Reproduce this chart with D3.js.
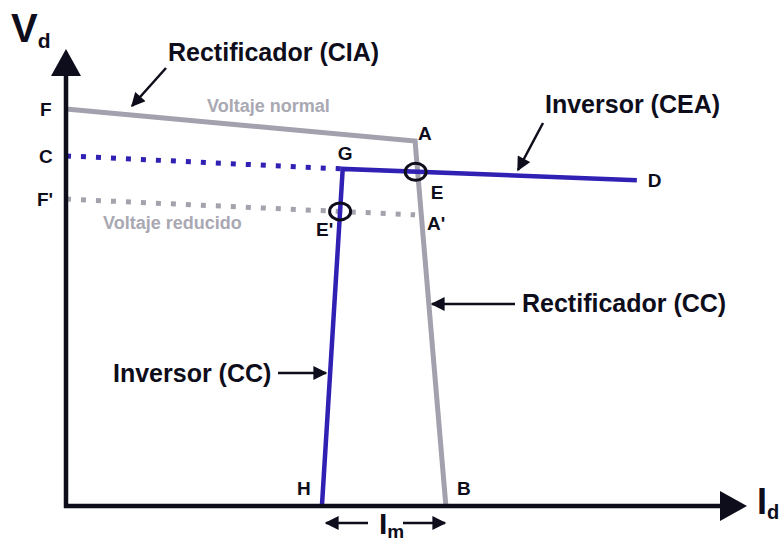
<!DOCTYPE html>
<html>
<head>
<meta charset="utf-8">
<script src="https://cdn.jsdelivr.net/npm/d3@7"></script>
<style>
  body { margin: 0; background: #fff; }
  svg text { font-family: "Liberation Sans", Arial, Helvetica, sans-serif; font-weight: bold; }
</style>
</head>
<body>
<svg id="chart" width="781" height="542"></svg>
<script>
// characteristic points, in (Id, Vd) units
const rectNormal = [[0, 88.2], [52.1, 81.1], [56.7, 0]]        // F -> A -> B
const rectReduced = [[0, 68.2], [52.1, 64.7]]                   // F' -> A'
const invCEAextended = [[0, 77.8], [41.3, 74.9]]               // C -> G
const inverter = [[38.2, 0], [41.3, 74.9], [85.2, 72.4]]        // H -> G -> D
const pointNames = ["F", "A", "B", "F'", "A'", "C", "G", "D", "H"]

const width = 781
const height = 542
const svg = d3.select("#chart")

const x = d3.scaleLinear().domain([0, 100]).range([66, 736])
const y = d3.scaleLinear().domain([0, 100]).range([506, 56])

const gray = "#a2a1ad"
const blue = "#3120b4"
const ink = "#0e0d1b"

// arrow heads
const defs = svg.append("defs")
defs.append("marker")
    .attr("id", "head")
    .attr("viewBox", "0 0 10 10")
    .attr("refX", 9).attr("refY", 5)
    .attr("markerWidth", 15).attr("markerHeight", 14)
    .attr("markerUnits", "userSpaceOnUse")
    .attr("orient", "auto")
  .append("path")
    .attr("d", "M0,0 L10,5 L0,10 Z")
    .attr("fill", ink)

const line = d3.line().x(d => x(d[0])).y(d => y(d[1]))

// dotted extensions
svg.append("path")
    .attr("d", line(invCEAextended))
    .attr("fill", "none").attr("stroke", blue)
    .attr("stroke-width", 5).attr("stroke-dasharray", "5 10")
svg.append("path")
    .attr("d", line(rectReduced))
    .attr("fill", "none").attr("stroke", "#a3a2ad")
    .attr("stroke-width", 5).attr("stroke-dasharray", "5 10")

// rectifier characteristic
svg.append("path")
    .attr("d", line(rectNormal))
    .attr("fill", "none").attr("stroke", gray)
    .attr("stroke-width", 5).attr("stroke-linejoin", "miter")

// inverter characteristic
svg.append("path")
    .attr("d", line(inverter))
    .attr("fill", "none").attr("stroke", blue)
    .attr("stroke-width", 4.5).attr("stroke-linejoin", "miter")

// axes
svg.append("line")
    .attr("x1", x(0)).attr("y1", y(0) + 2)
    .attr("x2", x(0)).attr("y2", 76)
    .attr("stroke", ink).attr("stroke-width", 4.5)
svg.append("path")
    .attr("d", `M${x(0)},49 L${x(0) + 15},76 L${x(0) - 15},76 Z`)
    .attr("fill", ink)
svg.append("line")
    .attr("x1", x(0) - 2).attr("y1", y(0))
    .attr("x2", 722).attr("y2", y(0))
    .attr("stroke", ink).attr("stroke-width", 4.5)
svg.append("path")
    .attr("d", `M747,${y(0)} L720,${y(0) - 15} L720,${y(0) + 15} Z`)
    .attr("fill", ink)

// operating points: intersections
function intersect(p1, p2, p3, p4) {
  const [x1, y1] = [x(p1[0]), y(p1[1])], [x2, y2] = [x(p2[0]), y(p2[1])]
  const [x3, y3] = [x(p3[0]), y(p3[1])], [x4, y4] = [x(p4[0]), y(p4[1])]
  const den = (x1 - x2) * (y3 - y4) - (y1 - y2) * (x3 - x4)
  const t = ((x1 - x3) * (y3 - y4) - (y1 - y3) * (x3 - x4)) / den
  return [x1 + t * (x2 - x1), y1 + t * (y2 - y1)]
}
const E = intersect(inverter[1], inverter[2], rectNormal[1], rectNormal[2])
const E2 = intersect(inverter[0], inverter[1], rectReduced[0], [rectReduced[1][0] + 4.6, rectReduced[1][1] - 0.3])
svg.selectAll("ellipse.op")
  .data([[E[0] - 2, E[1]], E2])
  .enter().append("ellipse")
    .attr("class", "op")
    .attr("cx", d => d[0]).attr("cy", d => d[1])
    .attr("rx", 10.5).attr("ry", 8.5)
    .attr("fill", "none").attr("stroke", ink).attr("stroke-width", 3)

// point letters
const letterPos = {
  "F":  [x(0) - 26, y(rectNormal[0][1]) + 7],
  "C":  [x(0) - 27, y(invCEAextended[0][1]) + 7],
  "F'": [x(0) - 29, y(rectReduced[0][1]) + 7],
  "A":  [x(rectNormal[1][0]) + 3, y(rectNormal[1][1]) - 1],
  "A'": [x(rectReduced[1][0]) + 12, y(rectReduced[1][1]) + 15],
  "G":  [x(inverter[1][0]) - 5, y(inverter[1][1]) - 9],
  "D":  [x(inverter[2][0]) + 11, y(inverter[2][1]) + 7],
  "H":  [x(inverter[0][0]) - 25, y(0) - 11],
  "B":  [x(rectNormal[2][0]) + 11, y(0) - 11]
}
svg.selectAll("text.pt")
  .data(pointNames)
  .enter().append("text")
    .attr("class", "pt")
    .attr("x", d => letterPos[d][0]).attr("y", d => letterPos[d][1])
    .attr("font-size", 19).attr("fill", ink)
    .text(d => d)
svg.append("text").attr("x", E[0] + 13).attr("y", E[1] + 27)
    .attr("font-size", 19).attr("fill", ink).text("E")
svg.append("text").attr("x", E2[0] - 24).attr("y", E2[1] + 25)
    .attr("font-size", 19).attr("fill", ink).text("E'")

// curve captions
svg.append("text").attr("x", 207).attr("y", 112)
    .attr("font-size", 18).attr("fill", "#a9a8b3").text("Voltaje normal")
svg.append("text").attr("x", 103).attr("y", 229)
    .attr("font-size", 18).attr("fill", "#a9a8b3").text("Voltaje reducido")

// annotations with arrows
const notes = [
  {text: "Rectificador (CIA)", tx: 168, ty: 61, from: [166, 68], to: [132, 106]},
  {text: "Inversor (CEA)", tx: 545, ty: 113, from: [543, 123], to: [518, 170]},
  {text: "Rectificador (CC)", tx: 522, ty: 312, from: [515, 304], to: [432, 304]},
  {text: "Inversor (CC)", tx: 113, ty: 382, from: [278, 373], to: [326, 373]}
]
notes.forEach(n => {
  svg.append("text").attr("x", n.tx).attr("y", n.ty)
      .attr("font-size", 25).attr("fill", ink).text(n.text)
  svg.append("line")
      .attr("x1", n.from[0]).attr("y1", n.from[1])
      .attr("x2", n.to[0]).attr("y2", n.to[1])
      .attr("stroke", ink).attr("stroke-width", 2.5)
      .attr("marker-end", "url(#head)")
})

// axis titles
const vd = svg.append("text").attr("x", 11).attr("y", 42).attr("fill", ink)
vd.append("tspan").attr("font-size", 40).text("V")
vd.append("tspan").attr("font-size", 21).attr("dy", 6).text("d")
const id = svg.append("text").attr("x", 757).attr("y", 514).attr("fill", ink)
id.append("tspan").attr("font-size", 36).text("I")
id.append("tspan").attr("font-size", 20).attr("dy", 5).text("d")
const im = svg.append("text").attr("x", 379).attr("y", 534).attr("fill", ink)
im.append("tspan").attr("font-size", 30).text("I")
im.append("tspan").attr("font-size", 19).attr("dy", 4).text("m")

// Im span arrows
svg.append("line").attr("x1", 368).attr("y1", 523).attr("x2", 326).attr("y2", 523)
    .attr("stroke", ink).attr("stroke-width", 2.5).attr("marker-end", "url(#head)")
svg.append("line").attr("x1", 403).attr("y1", 523).attr("x2", 445).attr("y2", 523)
    .attr("stroke", ink).attr("stroke-width", 2.5).attr("marker-end", "url(#head)")
</script>
</body>
</html>
